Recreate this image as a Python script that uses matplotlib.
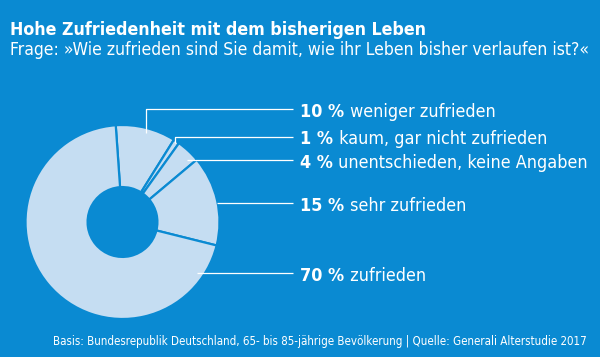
import matplotlib
matplotlib.use("Agg")
from matplotlib import pyplot as plt

# Daten
anteile = [10, 1, 4, 15, 70]
prozent_txt = ["10 %", "1 %", "4 %", "15 %", "70 %"]
kategorien = ["weniger zufrieden", "kaum, gar nicht zufrieden",
              "unentschieden, keine Angaben", "sehr zufrieden", "zufrieden"]

titel = "Hohe Zufriedenheit mit dem bisherigen Leben"
frage = "Frage: »Wie zufrieden sind Sie damit, wie ihr Leben bisher verlaufen ist?«"
fuss = ("Basis: Bundesrepublik Deutschland, 65- bis 85-jährige Bevölkerung"
        " | Quelle: Generali Alterstudie 2017")

blau = "#0a8ad2"
hell = "#c5ddf2"
W, H = 600, 357
schrift = ["DejaVu Sans"]
breit = "condensed"

fig = plt.figure(figsize=(6, 3.57), dpi=100, facecolor=blau)

# Donut
cx, cy, r = 122.5, 222, 97
ax = fig.add_axes([(cx - r) / W, (H - cy - r) / H, 2 * r / W, 2 * r / H])
ax.pie(anteile, startangle=94, counterclock=False, colors=[hell] * len(anteile),
       wedgeprops=dict(width=0.64, edgecolor=blau, linewidth=1.6))
ax.set_xlim(-1, 1)
ax.set_ylim(-1, 1)

# Ebene in Pixelkoordinaten fuer Texte und Linien
ov = fig.add_axes([0, 0, 1, 1])
ov.set_zorder(3)
ov.set_xlim(0, W)
ov.set_ylim(H, 0)
ov.axis("off")

renderer = fig.canvas.get_renderer()


def breite(t):
    return t.get_window_extent(renderer).width


def einpassen(t, ziel):
    t.set_fontsize(t.get_fontsize() * ziel / breite(t))


t1 = ov.text(10, 35, titel, color="white", fontsize=14, fontweight="bold",
             family=schrift, fontstretch=breit, va="baseline")
einpassen(t1, 418)
t2 = ov.text(10, 55, frage, color="white", fontsize=13, family=schrift,
             fontstretch=breit, va="baseline")
einpassen(t2, 578)
t3 = ov.text(587, 345, fuss, color="white", fontsize=9, family=schrift,
             fontstretch=breit, va="baseline", ha="right")
einpassen(t3, 534)

# Leitlinien: Ankerpunkt im Ring, Knick, Ende
linien = [
    [(145.5, 133), (145.5, 109), (293, 109)],
    [(174.5, 143), (174.5, 136.5), (293, 136.5)],
    [(186.5, 160), (293, 160)],
    [(216.5, 203), (293, 203)],
    [(196.5, 273), (293, 273)],
]
for pts in linien:
    xs, ys = zip(*pts)
    ov.plot(xs, ys, color="white", lw=0.9, solid_capstyle="butt")


def beschriften(i, y, gr):
    a = ov.text(300.5, y, prozent_txt[i], color="white", fontsize=gr,
                fontweight="bold", family=schrift, fontstretch=breit, va="baseline")
    x2 = 300.5 + breite(a) * W / fig.bbox.width
    b = ov.text(x2, y, " " + kategorien[i], color="white", fontsize=gr,
                family=schrift, fontstretch=breit, va="baseline")
    return a, b


# Schriftgroesse so waehlen, dass die laengste Zeile bis x=588 reicht
a, b = beschriften(2, 0, 13)
gesamt = breite(a) + breite(b)
a.remove()
b.remove()
gr = 13 * 287.5 / (gesamt * W / fig.bbox.width)

for i, pts in enumerate(linien):
    beschriften(i, pts[-1][1] + 8, gr)

fig.savefig("out.png", dpi=100, facecolor=blau)
